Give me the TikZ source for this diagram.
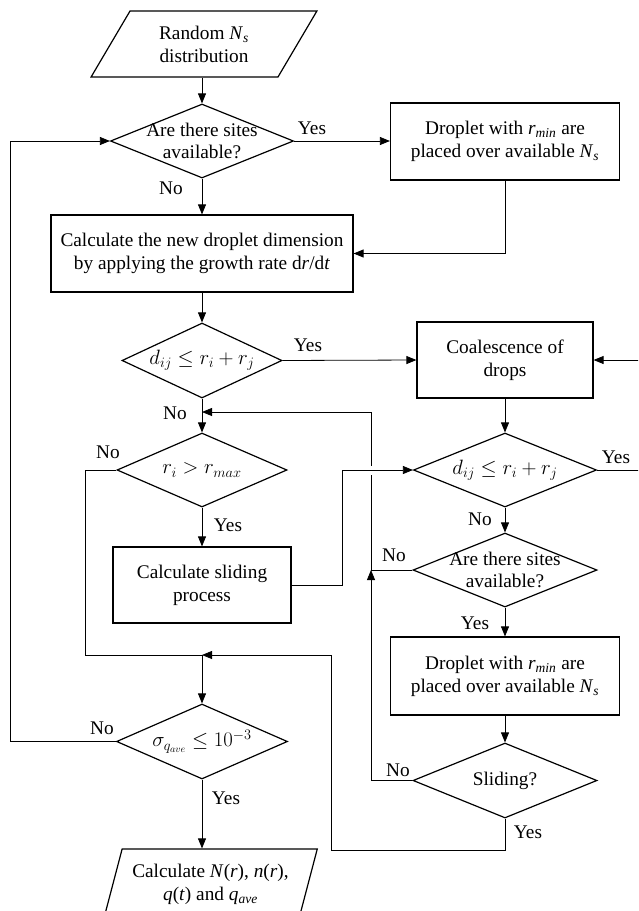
\documentclass[tikz,border=0pt]{standalone}
\usepackage{fontspec}
\setmainfont{Liberation Serif}
\usetikzlibrary{arrows.meta,shapes.geometric}

% italic variable with an italic subscript
\newcommand{\ivar}[2]{\textit{#1}\textsubscript{\textit{#2}}}

\tikzset{
    block/.style={draw, line width=1.2pt, align=center, inner sep=0pt},
    decision/.style={diamond, draw, line width=1.2pt, align=center, inner sep=-60pt},
    inout/.style={trapezium, trapezium stretches=true, draw, line width=1.2pt, align=center, inner sep=0pt},
    flow/.style={line width=0.8pt, ->},
    link/.style={line width=0.8pt},
    answer/.style={inner sep=0pt}
}

\begin{document}
\begin{tikzpicture}[x=1pt, y=-1pt, >={Triangle[length=10pt, width=8pt]},
    font=\fontsize{19.3}{22.8}\selectfont]
    \useasboundingbox (0,0) rectangle (638,911);
    \clip (0,0) rectangle (638,911);

    % Left column
    \node[inout, trapezium left angle=57, trapezium right angle=123,
        minimum width=226pt, minimum height=66pt] (rand) at (204,44)
        {Random \ivar{N}{s}\\distribution};
    \node[decision, minimum width=183pt, minimum height=74pt] (sites) at (202,141)
        {Are there sites\\available?};
    \node[block, minimum width=302pt, minimum height=77pt] (grow) at (202,253.5)
        {Calculate the new droplet dimension\\by applying the growth rate d\textit{r}/d\textit{t}};
    \node[decision, minimum width=160pt, minimum height=75pt] (touch) at (202,360.5)
        {$d_{ij} \le r_i + r_j$};
    \node[decision, minimum width=170pt, minimum height=74pt] (big) at (202,470)
        {$r_i > r_{max}$};
    \node[block, minimum width=178pt, minimum height=76pt] (slide) at (202,585)
        {Calculate sliding\\process};
    \node[decision, minimum width=171pt, minimum height=75pt] (conv) at (202,741.5)
        {$\sigma_{q_{ave}} \le 10^{-3}$};
    \node[inout, trapezium left angle=68, trapezium right angle=112,
        minimum width=214pt, minimum height=70pt] (result) at (210.5,884)
        {Calculate \textit{N}(\textit{r}), \textit{n}(\textit{r}),\\\textit{q}(\textit{t}) and \ivar{q}{ave}};

    % Right column
    \node[block, minimum width=229pt, minimum height=77pt] (place) at (505,141.5)
        {Droplet with \ivar{r}{min} are\\placed over available \ivar{N}{s}};
    \node[block, minimum width=176pt, minimum height=76pt] (coal) at (505,360)
        {Coalescence of\\drops};
    \node[decision, minimum width=183pt, minimum height=74pt] (touch2) at (505,470)
        {$d_{ij} \le r_i + r_j$};
    \node[decision, minimum width=184pt, minimum height=74pt] (sites2) at (505,570)
        {Are there sites\\available?};
    \node[block, minimum width=229pt, minimum height=78pt] (place2) at (505,676)
        {Droplet with \ivar{r}{min} are\\placed over available \ivar{N}{s}};
    \node[decision, minimum width=184pt, minimum height=75pt] (sliding) at (505,780.5)
        {Sliding?};

    % Bend points of the loops
    \coordinate (jA) at (202,412);
    \coordinate (jB) at (202,655);
    \coordinate (cA) at (371,412);
    \coordinate (cB) at (85,655);
    \coordinate (cC) at (331,850);
    \coordinate (cD) at (10,741.5);
    \coordinate (cE) at (342,470);
    \coordinate (cF) at (660,470);

    % Main flow, left column
    \draw[flow] (rand.south -| sites.north) -- (sites.north);
    \draw[flow] (sites.east) -- (sites.east -| place.west);
    \draw[flow] (place.south) |- (grow.east);
    \draw[flow] (sites.south) -- (grow.north);
    \draw[flow] (grow.south) -- (touch.north);
    \draw[flow] (touch.east) -- (coal.west);
    \draw[flow] (touch.south) -- (big.north);
    \draw[flow] (big.south) -- (slide.north);
    \draw[link] (big.west) -| (cB) -- (jB);
    \draw[flow] (jB) -- (conv.north);
    \draw[flow] (conv.west) -- (cD) |- (sites.west);
    \draw[flow] (conv.south) -- (conv.south |- result.north);

    % Right column
    \draw[flow] (coal.south) -- (touch2.north);
    \draw[flow] (touch2.east) -- (cF) |- (coal.east);
    \draw[flow] (touch2.south) -- (sites2.north);
    \draw[flow] (sites2.west) -| (cA) -- (jA);
    \draw[flow] (sites2.south) -- (place2.north);
    \draw[flow] (place2.south) -- (sliding.north);
    \draw[flow] (sliding.west) -| (sites2.west -| cA);
    \draw[flow] (sliding.south) |- (cC) |- (jB);

    % gap where the sliding line crosses the loop
    \fill[white] (cA |- cE) ++(-3,-4.5) rectangle ++(6,9);
    \draw[flow] (slide.east) -| (cE) -- (touch2.west);

    % Yes / No answers
    \node[answer] (y1) at (312,128) {Yes};
    \node[answer] (n1) at (171,188) {No};
    \node[answer] (y2) at (308,345) {Yes};
    \node[answer] (n2) at (175,413) {No};
    \node[answer] (n3) at (108,452) {No};
    \node[answer] (y3) at (228,525) {Yes};
    \node[answer] (n4) at (102,728) {No};
    \node[answer] (y4) at (226,798) {Yes};
    \node[answer] (y5) at (616,457) {Yes};
    \node[answer] (n5) at (480,519) {No};
    \node[answer] (n6) at (394,555) {No};
    \node[answer] (y6) at (475,623) {Yes};
    \node[answer] (n7) at (398,770) {No};
    \node[answer] (y7) at (528,832) {Yes};
\end{tikzpicture}
\end{document}
